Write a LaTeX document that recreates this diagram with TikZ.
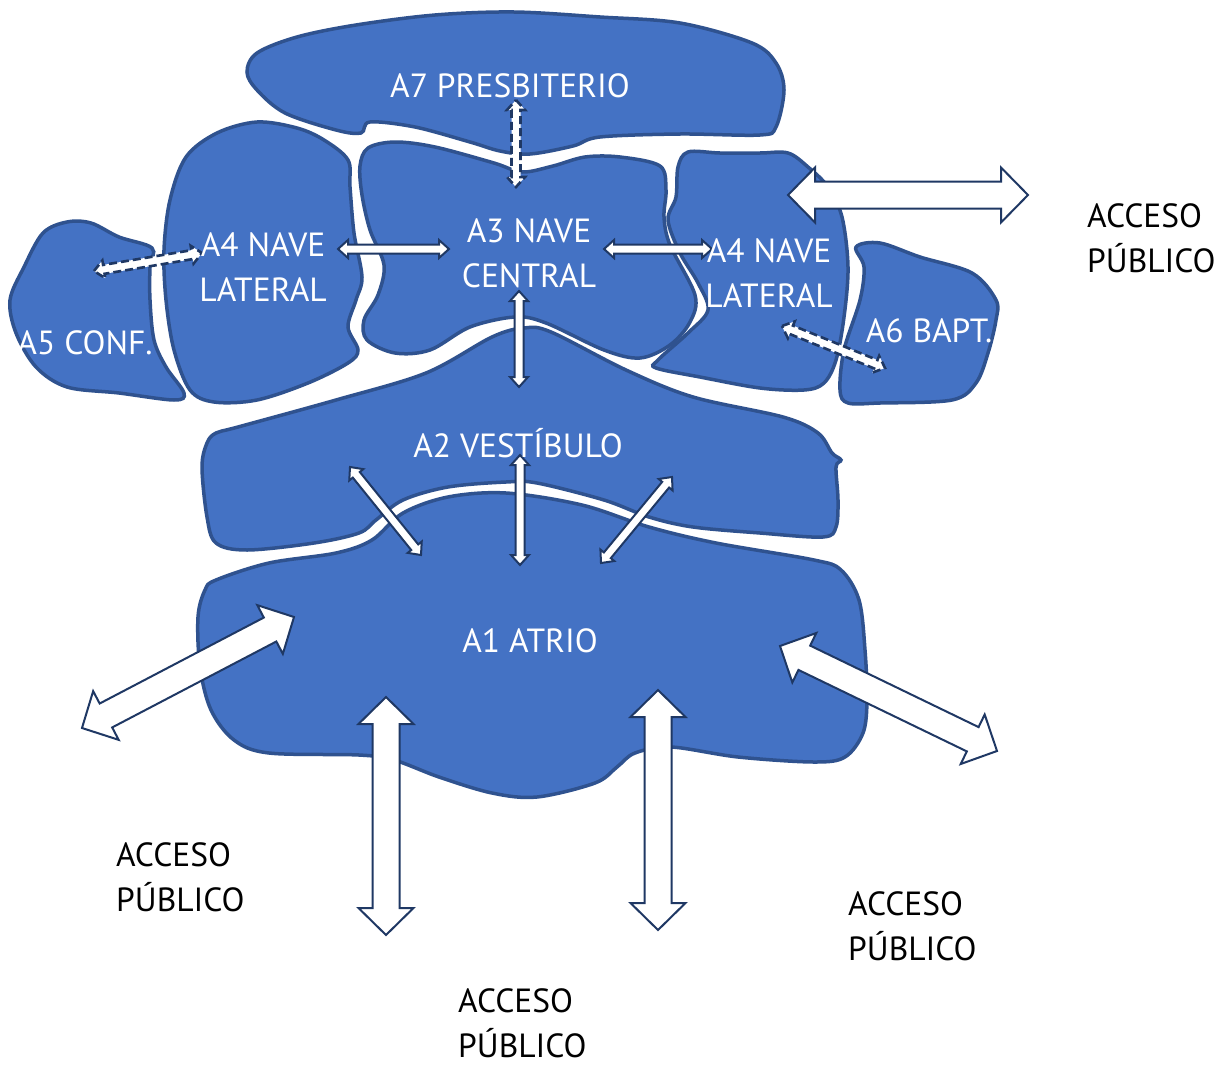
\documentclass[tikz,border=0pt]{standalone}
\usepackage{fontspec}
\setmainfont{PT Sans}
\usetikzlibrary{calc}
\definecolor{blobfill}{HTML}{4472C4}
\definecolor{blobline}{HTML}{2F528F}
\definecolor{arrline}{HTML}{1F3864}
\newcommand\dblarrow[6]{%
  \draw[#1] let \p1=(#2), \p2=(#3), \n1={atan2(\y2-\y1,\x2-\x1)} in
    (\p1) -- ($(\p1)+(\n1:#6)+(\n1+90:#5)$) -- ($(\p1)+(\n1:#6)+(\n1+90:#4)$)
    -- ($(\p2)+(\n1+180:#6)+(\n1+90:#4)$) -- ($(\p2)+(\n1+180:#6)+(\n1+90:#5)$)
    -- (\p2) -- ($(\p2)+(\n1+180:#6)+(\n1-90:#5)$) -- ($(\p2)+(\n1+180:#6)+(\n1-90:#4)$)
    -- ($(\p1)+(\n1:#6)+(\n1-90:#4)$) -- ($(\p1)+(\n1:#6)+(\n1-90:#5)$) -- cycle;}
\tikzset{
  blob/.style={fill=blobfill, draw=blobline, line width=3.5pt},
  bigarr/.style={fill=white, draw=arrline, line width=2pt, line join=miter},
  smallarr/.style={fill=white, draw=arrline, line width=2pt, line join=miter},
  dasharr/.style={fill=white, draw=arrline, line width=2.6pt, line join=miter, dash pattern=on 8pt off 4pt},
  lbl/.style={text=white, font=\fontsize{33.5}{45}\selectfont, align=center, inner sep=0pt},
  acc/.style={text=black, font=\fontsize{33.5}{45}\selectfont, align=left, inner sep=0pt, anchor=west}
}
\begin{document}
\begin{tikzpicture}[x=1pt,y=-1pt]
\useasboundingbox[fill=white] (0,0) rectangle (1228,1068);
% A7 presbiterio
\draw[blob] plot[smooth cycle, tension=0.55] coordinates {
 (247,72) (257,53) (297,37) (356,25) (435,15) (514,12) (600,17) (680,23) (752,43) (776,63)
 (784,90) (776,127) (760,135) (680,134) (600,137) (573,146) (530,154) (500,151) (470,142)
 (415,127) (370,122) (361,133) (336,130) (285,113) (257,90)};
% A3 nave central
\draw[blob] plot[smooth cycle, tension=0.55] coordinates {
 (368,148) (395,142) (435,147) (494,163) (522,172) (553,166) (585,157) (620,157) (660,166)
 (666,190) (664,217) (670,245) (695,295) (690,322) (670,345) (640,358) (604,350) (546,323)
 (515,317) (470,327) (430,350) (395,353) (367,340) (364,320) (378,295) (384,265) (370,230)
 (362,195) (360,166)};
% A4 left
\draw[blob] plot[smooth cycle, tension=0.55] coordinates {
 (257,122) (217,133) (186,157) (170,200) (164,250) (166,300) (174,350) (190,390) (214,402)
 (257,400) (308,383) (348,363) (358,350) (348,327) (356,300) (362,277) (354,233) (350,187)
 (348,160) (324,140) (297,128)};
% A5 conf
\draw[blob] plot[smooth cycle, tension=0.55] coordinates {
 (67,222) (43,233) (24,267) (10,300) (16,333) (36,367) (67,387) (119,393) (174,400) (184,393)
 (166,367) (154,340) (150,300) (150,267) (152,248) (119,237) (91,223)};
% A4 right
\draw[blob] plot[smooth cycle, tension=0.55] coordinates {
 (688,152) (720,153) (760,153) (788,153) (808,167) (828,187) (842,217) (848,267) (844,317)
 (836,360) (824,383) (804,390) (760,388) (700,377) (656,368) (658,360) (688,333) (708,310)
 (698,283) (680,253) (668,220) (676,197) (678,167)};
% A6 bapt
\draw[blob] plot[smooth cycle, tension=0.55] coordinates {
 (856,247) (880,243) (920,257) (972,273) (996,300) (996,320) (988,353) (976,383) (952,400)
 (880,403) (848,403) (840,390) (844,350) (860,300) (864,267)};
% A2 vestibulo
\draw[blob] plot[smooth cycle, tension=0.55] coordinates {
 (216,433) (238,427) (336,400) (426,373) (492,337) (524,328) (551,332) (626,370) (693,397)
 (783,417) (818,433) (832,453) (841,460) (836,467) (838,500) (836,527) (823,537) (760,533)
 (693,527) (649,517) (604,500) (537,483) (506,482) (448,487) (403,500) (376,520) (359,533)
 (314,543) (247,550) (216,543) (207,517) (202,467) (207,443)};
% A1 atrio
\draw[blob] plot[smooth cycle, tension=0.55] coordinates {
 (216,580) (269,563) (336,553) (372,540) (403,513) (448,497) (506,493) (582,505) (649,527)
 (716,543) (814,560) (841,570) (859,600) (865,650) (867,700) (863,733) (845,757) (814,762)
 (738,757) (671,747) (635,753) (617,767) (595,783) (537,797) (492,793) (439,777) (394,760)
 (359,755) (269,753) (234,740) (211,710) (200,667) (198,617) (205,590)};

% arrow end points
\coordinate (bl1) at (82,728);   \coordinate (bl2) at (294,617);
\coordinate (bb1) at (386,935);  \coordinate (bb2) at (386,697);
\coordinate (bc1) at (658,930);  \coordinate (bc2) at (658,690);
\coordinate (br1) at (780,646);  \coordinate (br2) at (997,751);
\coordinate (bt1) at (788,195);  \coordinate (bt2) at (1028,195);
\coordinate (s1a) at (338,249);  \coordinate (s1b) at (449,249);
\coordinate (s2a) at (604,249);  \coordinate (s2b) at (712,249);
\coordinate (s3a) at (519,291);  \coordinate (s3b) at (519,387);
\coordinate (s4a) at (520,455);  \coordinate (s4b) at (520,565);
\coordinate (s5a) at (350,467);  \coordinate (s5b) at (421,555);
\coordinate (s6a) at (672,477);  \coordinate (s6b) at (601,563);
\coordinate (d1a) at (516,100);  \coordinate (d1b) at (516,187);
\coordinate (d2a) at (94,271);   \coordinate (d2b) at (202,253);
\coordinate (d3a) at (782,326);  \coordinate (d3b) at (885,368);

\dblarrow{bigarr}{bl1}{bl2}{13.5pt}{27.5pt}{27pt}
\dblarrow{bigarr}{bb1}{bb2}{13.5pt}{27.5pt}{27pt}
\dblarrow{bigarr}{bc1}{bc2}{13.5pt}{27.5pt}{27pt}
\dblarrow{bigarr}{br1}{br2}{13.5pt}{27.5pt}{27pt}
\dblarrow{bigarr}{bt1}{bt2}{13.5pt}{27.5pt}{27pt}
\dblarrow{smallarr}{s1a}{s1b}{4.5pt}{9pt}{10pt}
\dblarrow{smallarr}{s2a}{s2b}{4.5pt}{9pt}{10pt}
\dblarrow{smallarr}{s3a}{s3b}{4.5pt}{9pt}{10pt}
\dblarrow{smallarr}{s4a}{s4b}{4.5pt}{9pt}{10pt}
\dblarrow{smallarr}{s5a}{s5b}{4.5pt}{9pt}{10pt}
\dblarrow{smallarr}{s6a}{s6b}{4.5pt}{9pt}{10pt}
\dblarrow{dasharr}{d1a}{d1b}{4.5pt}{9pt}{10pt}
\dblarrow{dasharr}{d2a}{d2b}{4.5pt}{9pt}{10pt}
\dblarrow{dasharr}{d3a}{d3b}{4.5pt}{9pt}{10pt}

% labels
\node[lbl] (t7) at (510,86) {A7 PRESBITERIO};
\node[lbl] (t3) at (529,253) {A3 NAVE\\CENTRAL};
\node[lbl] (t4l) at (263,267) {A4 NAVE\\LATERAL};
\node[lbl] (t4r) at (769,273) {A4 NAVE\\LATERAL};
\node[lbl] (t5) at (85,343) {A5 CONF.};
\node[lbl] (t6) at (929,331) {A6 BAPT.};
\node[lbl] (t2) at (518,443) {A2 VESTÍBULO};
\node[lbl] (t1) at (530,641) {A1 ATRIO};
\node[acc] (acc1) at (1087,238) {ACCESO\\PÚBLICO};
\node[acc] (acc2) at (116,877) {ACCESO\\PÚBLICO};
\node[acc] (acc3) at (458,1023) {ACCESO\\PÚBLICO};
\node[acc] (acc4) at (848,926) {ACCESO\\PÚBLICO};
\end{tikzpicture}
\end{document}
